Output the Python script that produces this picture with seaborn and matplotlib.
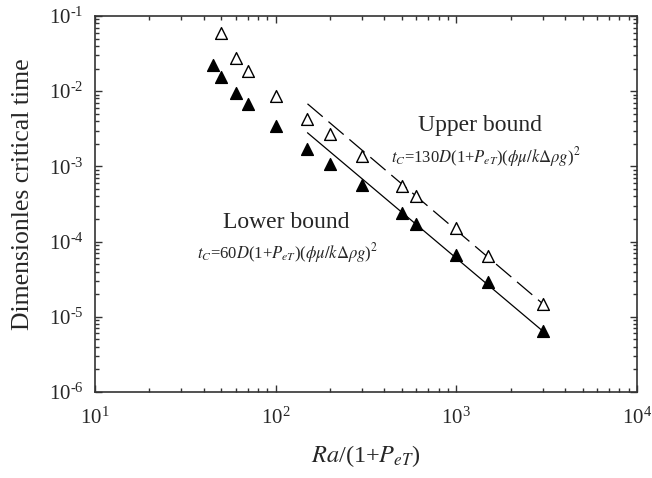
import matplotlib
matplotlib.use("Agg")
import matplotlib.pyplot as plt
import seaborn as sns
import numpy as np
from matplotlib.ticker import LogLocator, NullFormatter, FuncFormatter

# upper bound data (open triangles)
ra_upper = [50, 60, 70, 100, 150, 200, 300, 500, 600, 1000, 1500, 3000]
tc_upper = [0.060, 0.0275, 0.0185, 0.0087, 0.00427, 0.0027, 0.00138,
            0.000556, 0.00041, 0.000151, 6.4e-5, 1.5e-5]

# lower bound data (filled triangles)
ra_lower = [45, 50, 60, 70, 100, 150, 200, 300, 500, 600, 1000, 1500, 3000]
tc_lower = [0.0222, 0.0154, 0.0096, 0.0068, 0.00348, 0.00172, 0.00109,
            0.00057, 0.000239, 0.000174, 6.6e-5, 2.94e-5, 6.5e-6]

# fitted bound lines (end points)
line_ra = [150, 3000]
line_upper = [0.0068, 1.5e-5]
line_lower = [0.0028, 6.5e-6]

sns.set_style("ticks")
plt.rcParams['font.family'] = ['Liberation Serif', 'DejaVu Serif']
plt.rcParams['mathtext.fontset'] = 'stix'
axis_color = '#333333'


def pow_label(v, pos):
    # 10^n with a plain hyphen like the original
    n = int(round(np.log10(v)))
    s = str(n).replace('-', '\u2010')
    return r'$\mathdefault{10^{%s}}$' % s


fig = plt.figure(figsize=(6.52, 4.78), dpi=100)
ax = fig.add_axes([95 / 652, 86 / 478, 542 / 652, 376 / 478])

sns.lineplot(x=line_ra, y=line_upper, ax=ax, color='black', linewidth=0.9,
             linestyle=(0, (16, 6)))
sns.lineplot(x=line_ra, y=line_lower, ax=ax, color='black', linewidth=0.9)

sns.scatterplot(x=ra_upper, y=tc_upper, ax=ax, marker='^', s=72,
                color='white', edgecolor='black', linewidth=1.0, zorder=3)
sns.scatterplot(x=ra_lower, y=tc_lower, ax=ax, marker='^', s=72,
                color='black', edgecolor='black', linewidth=1.0, zorder=3)

ax.set_xscale('log')
ax.set_yscale('log')
ax.set_xlim(10, 1e4)
ax.set_ylim(1e-6, 1e-1)

ax.xaxis.set_minor_locator(LogLocator(base=10, subs=range(2, 10)))
ax.yaxis.set_minor_locator(LogLocator(base=10, subs=range(2, 10)))
ax.xaxis.set_minor_formatter(NullFormatter())
ax.yaxis.set_minor_formatter(NullFormatter())
ax.xaxis.set_major_formatter(FuncFormatter(pow_label))
ax.yaxis.set_major_formatter(FuncFormatter(pow_label))

ax.tick_params(which='both', direction='in', top=True, right=True,
               color=axis_color, width=1.0)
ax.tick_params(which='major', length=5, labelsize=15)
ax.tick_params(axis='x', which='major', pad=11)
ax.tick_params(axis='y', which='major', pad=8)
ax.tick_params(which='minor', length=3)
for sp in ax.spines.values():
    sp.set_color(axis_color)
    sp.set_linewidth(1.2)

ax.set_xlabel(r'$Ra$/(1+$P_{eT}$)', fontsize=17.5)
ax.xaxis.set_label_coords(0.5, -0.135)
ax.set_ylabel('Dimensionles critical time', fontsize=18.5)
ax.yaxis.set_label_coords(-0.113, 0.525)

ax.text(0.71, 0.71, 'Upper bound', transform=ax.transAxes,
        ha='center', va='center', fontsize=17)
ax.text(0.721, 0.625, r'$t_C$=130$D$(1+$P_{eT}$)($\phi\mu/k\Delta\rho g$)$^2$',
        transform=ax.transAxes, ha='center', va='center', fontsize=12)
ax.text(0.352, 0.452, 'Lower bound', transform=ax.transAxes,
        ha='center', va='center', fontsize=17)
ax.text(0.356, 0.370, r'$t_C$=60$D$(1+$P_{eT}$)($\phi\mu/k\Delta\rho g$)$^2$',
        transform=ax.transAxes, ha='center', va='center', fontsize=12)

fig.savefig('out.png', dpi=100)
